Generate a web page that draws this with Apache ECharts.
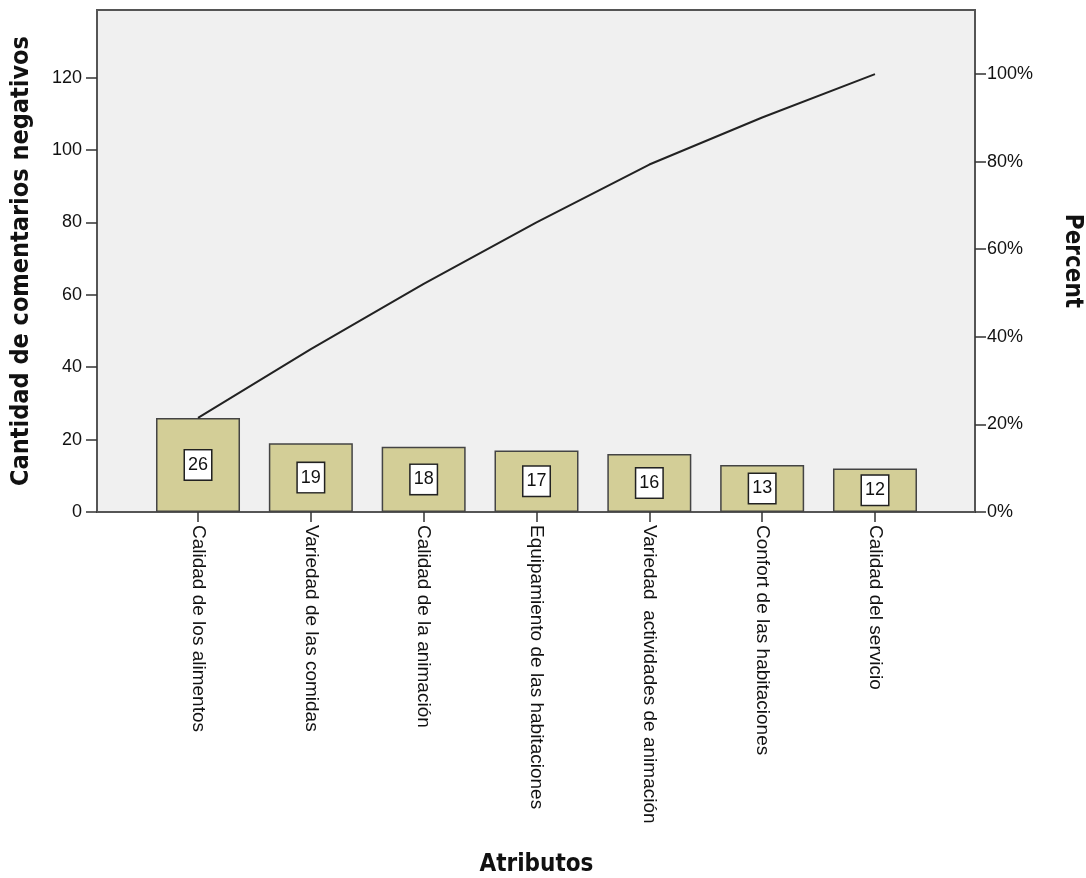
<!DOCTYPE html>
<html>
<head>
<meta charset="utf-8">
<script src="https://cdn.jsdelivr.net/npm/echarts@6/dist/echarts.min.js"></script>
<style>
  html, body { margin: 0; padding: 0; background: #ffffff; }
  #chart { width: 1086px; height: 878px; }
</style>
</head>
<body>
<div id="chart"></div>
<script>
// Atributos con comentarios negativos (diagrama de Pareto)
const categories = [
  'Calidad de los alimentos',
  'Variedad de las comidas',
  'Calidad de la animación',
  'Equipamiento de las habitaciones',
  'Variedad  actividades de animación',
  'Confort de las habitaciones',
  'Calidad del servicio'
];
const counts = [26, 19, 18, 17, 16, 13, 12];
// Conteo acumulado (línea de Pareto); 121 = 100 %
const cumulative = [26, 45, 63, 80, 96, 109, 121];
const total = 121;
const countMax = 138.7;
const pctMax = countMax / total * 100;

const labelFont = '"Liberation Sans", Arial, sans-serif';
const titleFont = '"DejaVu Sans Condensed", "DejaVu Sans", sans-serif';

const chart = echarts.init(document.getElementById('chart'), null, { renderer: 'canvas' });

chart.setOption({
  animation: false,
  backgroundColor: '#ffffff',
  grid: [
    { // marco del gráfico con los dos ejes verticales
      left: 97, right: 111, top: 10, bottom: 366,
      containLabel: false, outerBoundsMode: 'none',
      show: true, backgroundColor: '#f0f0f0',
      borderColor: '#555555', borderWidth: 2
    },
    { // zona de las categorías
      left: 141.6, right: 154.6, top: 10, bottom: 366,
      containLabel: false, outerBoundsMode: 'none'
    }
  ],
  xAxis: [
    { gridIndex: 0, type: 'value', min: 0, max: 1, show: false },
    {
      gridIndex: 1, type: 'category', data: categories,
      axisLine: { show: false },
      axisTick: { show: true, alignWithLabel: true, length: 10, lineStyle: { color: '#333333', width: 1.5 } },
      axisLabel: {
        rotate: -90, margin: 13, fontSize: 19, color: '#111111',
        fontFamily: labelFont, interval: 0
      },
      name: 'Atributos', nameLocation: 'middle', nameGap: 341,
      nameTextStyle: { fontSize: 24, fontWeight: 'bold', color: '#111111', fontFamily: titleFont }
    }
  ],
  yAxis: [
    {
      gridIndex: 0, type: 'value', position: 'left', min: 0, max: countMax, interval: 20,
      axisLine: { show: true, lineStyle: { color: '#555555', width: 2 } },
      axisTick: { show: true, length: 11, lineStyle: { color: '#333333', width: 1.5 } },
      splitLine: { show: false },
      axisLabel: {
        margin: 15, fontSize: 18, color: '#111111', fontFamily: labelFont, showMaxLabel: false,
        formatter: v => (v % 20 === 0 ? String(v) : '')
      },
      name: 'Cantidad de comentarios negativos', nameLocation: 'middle', nameGap: 63, nameRotate: 90,
      nameTextStyle: { fontSize: 25, fontWeight: 'bold', color: '#111111', fontFamily: titleFont }
    },
    {
      gridIndex: 0, type: 'value', position: 'right', min: 0, max: pctMax, interval: 20,
      axisLine: { show: true, lineStyle: { color: '#555555', width: 2 } },
      axisTick: { show: true, length: 11, lineStyle: { color: '#333333', width: 1.5 } },
      splitLine: { show: false },
      axisLabel: {
        margin: 12, fontSize: 18, color: '#111111', fontFamily: labelFont, showMaxLabel: false,
        formatter: v => (v % 20 === 0 ? v + '%' : '')
      },
      name: 'Percent', nameLocation: 'middle', nameGap: 85, nameRotate: -90,
      nameTextStyle: { fontSize: 24, fontWeight: 'bold', color: '#111111', fontFamily: titleFont }
    },
    { gridIndex: 1, type: 'value', min: 0, max: countMax, show: false }
  ],
  series: [
    {
      type: 'bar', xAxisIndex: 1, yAxisIndex: 2, data: counts, barWidth: 84,
      itemStyle: { color: '#d3ce97', borderColor: '#444444', borderWidth: 1.5 },
      label: {
        show: true, position: 'inside', fontSize: 18, color: '#111111', fontFamily: labelFont,
        backgroundColor: '#ffffff', borderColor: '#222222', borderWidth: 1.5,
        padding: [6, 3, 5, 3]
      },
      z: 2
    },
    {
      type: 'line', xAxisIndex: 1, yAxisIndex: 2, data: cumulative,
      symbol: 'none', smooth: false,
      lineStyle: { color: '#222222', width: 2 },
      z: 3
    }
  ]
});
</script>
</body>
</html>
